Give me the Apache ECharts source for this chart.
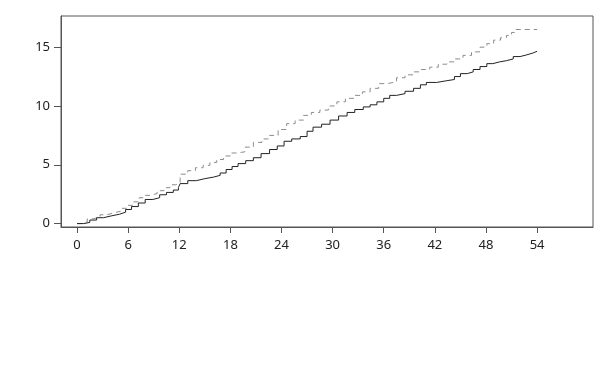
<!DOCTYPE html>
<html>
<head>
<meta charset="utf-8">
<script src="https://cdn.jsdelivr.net/npm/echarts@6/dist/echarts.min.js"></script>
<style>html,body{margin:0;padding:0;background:#fff;}#c{width:605px;height:386px;}</style>
</head>
<body>
<div id="c"></div>
<script>
var xTicks = [0, 6, 12, 18, 24, 30, 36, 42, 48, 54];
var yTicks = [0, 5, 10, 15];

var solidX = [0,0.8,1.5,2.3,3.1,4.0,5.0,5.7,6.4,7.2,8.0,8.9,9.7,10.5,11.3,11.9,12.1,13.0,14.0,15.0,16.0,16.8,17.5,18.2,18.9,19.8,20.7,21.6,22.6,23.5,24.3,25.2,26.2,27.0,27.7,28.7,29.7,30.7,31.7,32.6,33.6,34.4,35.2,36.0,36.7,37.5,38.5,39.5,40.3,41.0,42.2,43.4,44.3,45.0,45.8,46.5,47.3,48.1,48.8,49.6,50.4,51.2,52.0,52.8,53.5,54.0];
var solidY = [0,0.1,0.3,0.5,0.65,0.8,0.97,1.2,1.45,1.75,2.05,2.2,2.45,2.65,2.85,3.06,3.4,3.65,3.82,3.95,4.1,4.3,4.6,4.85,5.1,5.35,5.6,5.95,6.3,6.6,7.0,7.2,7.4,7.85,8.2,8.45,8.8,9.15,9.45,9.7,9.92,10.1,10.35,10.65,10.9,11.05,11.25,11.5,11.8,12.0,12.15,12.25,12.5,12.75,12.9,13.1,13.35,13.6,13.75,13.85,14.0,14.2,14.35,14.5,14.65,14.65];

var dashX = [0,0.6,1.2,1.9,2.7,3.5,4.3,5.1,5.8,6.5,7.3,8.0,8.6,9.4,10.2,10.9,11.6,12.1,13.0,13.9,14.8,15.6,16.4,17.2,18.0,18.7,19.7,20.7,21.7,22.6,23.6,24.6,25.6,26.6,27.5,28.5,29.5,30.5,31.5,32.5,33.5,34.4,35.4,36.4,37.5,38.5,39.5,40.4,41.4,42.4,43.4,44.3,45.3,46.3,47.3,48.1,48.9,49.7,50.4,51.0,51.5,54.0];
var dashY = [0,0.15,0.4,0.56,0.75,0.9,1.05,1.3,1.55,1.85,2.2,2.4,2.55,2.8,3.05,3.3,3.45,4.2,4.5,4.75,4.95,5.2,5.45,5.75,6.0,6.1,6.5,6.9,7.2,7.5,8.0,8.5,8.8,9.2,9.45,9.65,10.0,10.35,10.65,10.9,11.2,11.5,11.9,12.05,12.4,12.65,12.9,13.1,13.3,13.55,13.75,14.0,14.3,14.6,15.0,15.3,15.6,15.8,16.0,16.25,16.5,16.5];

function pairs(xs, ys) { return xs.map(function (x, i) { return [x, ys[i]]; }); }

var chart = echarts.init(document.getElementById('c'), null, {renderer: 'canvas'});
var font = {fontFamily: 'Noto Sans', fontSize: 13, color: '#222'};
chart.setOption({
  animation: false,
  grid: {left: 61, right: 12, top: 16, bottom: 159, show: true, borderColor: '#555', borderWidth: 1, backgroundColor: 'transparent'},
  xAxis: {
    type: 'value', min: -1.88, max: 60.56,
    axisLine: {show: true, onZero: false, lineStyle: {color: '#555', width: 1}},
    splitLine: {show: false},
    axisTick: {show: true, length: 6, lineStyle: {color: '#555'}, customValues: xTicks},
    axisLabel: Object.assign({margin: 12, customValues: xTicks}, font)
  },
  yAxis: {
    type: 'value', min: -0.29, max: 17.65,
    axisLine: {show: true, onZero: false, lineStyle: {color: '#555', width: 1}},
    splitLine: {show: false},
    axisTick: {show: true, length: 7, lineStyle: {color: '#555'}, customValues: yTicks},
    axisLabel: Object.assign({margin: 11, customValues: yTicks}, font)
  },
  series: [
    {type: 'line', step: 'end', data: pairs(dashX, dashY), symbol: 'none',
     lineStyle: {color: '#8c8c8c', width: 1, type: [5, 4]}},
    {type: 'line', step: 'end', data: pairs(solidX, solidY), symbol: 'none',
     lineStyle: {color: '#222', width: 1}}
  ]
});
</script>
</body>
</html>
